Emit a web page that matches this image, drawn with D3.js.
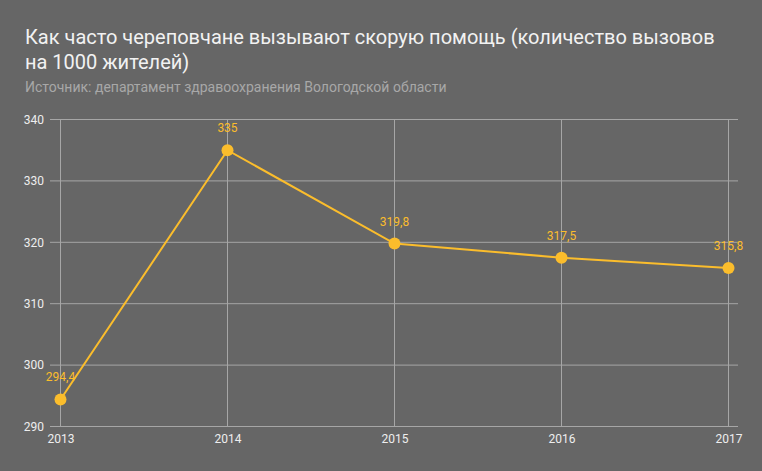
<!DOCTYPE html>
<html><head><meta charset="utf-8">
<script src="https://cdn.jsdelivr.net/npm/d3@7"></script>
<style>
html,body{margin:0;padding:0;background:#666666;}
svg{display:block;font-family:Roboto,sans-serif;}
</style></head><body>
<script>
const years = ["2013","2014","2015","2016","2017"];
const values = [294.4, 335, 319.8, 317.5, 315.8];
const valueLabels = ["294,4","335","319,8","317,5","315,8"];
const yTicks = [290,300,310,320,330,340];
const titleLines = ["Как часто череповчане вызывают скорую помощь (количество вызовов","на 1000 жителей)"];
const subtitle = "Источник: департамент здравоохранения Вологодской области";

const W=762,H=471;
const svg=d3.select("body").append("svg").attr("width",W).attr("height",H);
svg.append("rect").attr("width",W).attr("height",H).attr("fill","#666666");

svg.append("text").attr("x",25).attr("y",44).attr("fill","#f2f2f2").attr("font-size",20)
  .selectAll("tspan").data(titleLines).join("tspan").attr("x",25).attr("dy",(d,i)=>i?25:0).text(d=>d);
svg.append("text").attr("x",25).attr("y",92).attr("fill","#a8a8a8").attr("font-size",14).text(subtitle);

const x=d3.scalePoint().domain(years).range([60.5,728.5]);
const y=d3.scaleLinear().domain([290,340]).range([426.5,119.5]);

const g=svg.append("g");
// horizontal grid
g.selectAll("line.h").data(yTicks).join("line").attr("class","h")
  .attr("x1",50).attr("x2",738).attr("y1",d=>y(d)).attr("y2",d=>y(d))
  .attr("stroke","#a6a6a6").attr("stroke-width",1);
// vertical grid
g.selectAll("line.v").data(years).join("line").attr("class","v")
  .attr("x1",d=>x(d)).attr("x2",d=>x(d)).attr("y1",y(340)).attr("y2",y(290))
  .attr("stroke","#a6a6a6").attr("stroke-width",1);

// y axis labels
const yAxis=d3.axisLeft(y).tickValues(yTicks).tickSize(0).tickPadding(0);
const ya=svg.append("g").attr("transform","translate(44,0)").call(yAxis);
ya.select(".domain").remove();
ya.selectAll("text").attr("fill","#eeeeee").attr("font-size",12).attr("font-family","Roboto,sans-serif");

const xAxis=d3.axisBottom(x).tickSize(0).tickPadding(0);
const xa=svg.append("g").attr("transform","translate(0,434)").call(xAxis);
xa.select(".domain").remove();
xa.selectAll("text").attr("fill","#eeeeee").attr("font-size",12).attr("font-family","Roboto,sans-serif");

const data=years.map((yr,i)=>({yr,v:values[i],l:valueLabels[i]}));
svg.append("path").datum(data).attr("fill","none").attr("stroke","#fbbd2c").attr("stroke-width",2)
  .attr("d",d3.line().x(d=>x(d.yr)).y(d=>y(d.v)));
svg.selectAll("circle.p").data(data).join("circle").attr("class","p")
  .attr("cx",d=>x(d.yr)).attr("cy",d=>y(d.v)).attr("r",6).attr("fill","#fbbd2c");
svg.selectAll("text.lbl").data(data).join("text").attr("class","lbl")
  .attr("x",d=>x(d.yr)).attr("y",d=>y(d.v)-18).attr("text-anchor","middle")
  .attr("fill","#fbbd2c").attr("font-size",12).text(d=>d.l);
</script>
</body></html>
